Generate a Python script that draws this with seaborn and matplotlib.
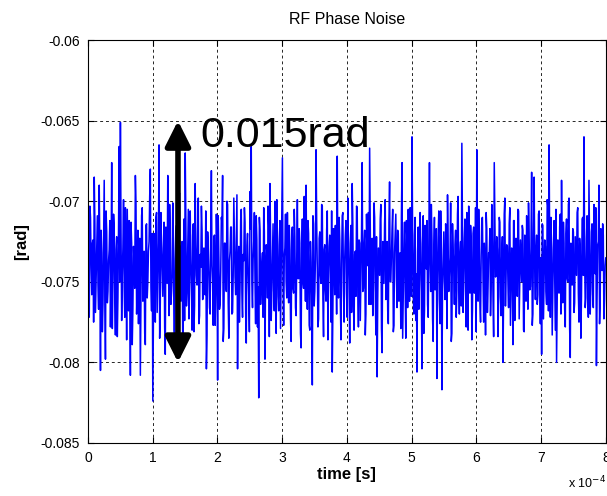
import numpy as np
import pandas as pd
import matplotlib
matplotlib.use("Agg")
import matplotlib.pyplot as plt
import seaborn as sns
from matplotlib.ticker import FuncFormatter

# phase samples in mrad; even-numbered samples ...
phase_mrad_even = [
    -73.5, -77.2, -71.0, -75.8, -72.4, -68.5, -76.9, -72.8, -75.1, -69.0, -80.5, -73.2, -76.4, -68.7, -79.8, -71.9, -75.6, -73.0, -77.8, -67.6,
    -74.9, -71.6, -78.3, -72.2, -76.0, -66.6, -65.1, -77.4, -72.9, -75.3, -70.4, -78.6, -73.8, -71.2, -80.8, -72.6, -76.7, -73.9, -68.4, -77.0,
    -71.8, -75.5, -80.8, -70.9, -76.2, -73.1, -78.9, -71.4, -75.0, -72.5, -68.0, -76.8, -82.4, -72.0, -77.5, -70.7, -74.8, -66.5, -76.3, -72.7,
    -75.9, -71.3, -79.5, -73.4, -68.4, -77.1, -72.3, -75.7, -70.1, -78.0, -73.6, -71.5, -76.6, -69.6, -75.2, -72.8, -78.4, -71.1, -67.0, -76.5,
    -73.0, -77.3, -70.6, -75.4, -72.1, -78.1, -68.9, -74.6, -71.7, -77.6, -73.3, -70.3, -76.1, -72.9, -75.8, -80.4, -71.9, -74.4, -77.0, -68.1,
    -75.1, -72.2, -77.7, -70.8, -81.1, -73.5, -76.4, -71.0, -68.4, -77.9, -72.6, -75.6, -70.2, -78.5, -73.1, -71.6, -76.9, -69.8, -74.7, -72.4,
    -80.4, -72.8, -75.2, -70.5, -77.2, -73.7, -71.3, -78.8, -72.0, -75.9, -69.4, -66.6, -76.6, -72.5, -74.9, -70.9, -77.8, -82.2, -71.8, -75.3,
    -73.2, -70.4, -79.8, -72.7, -76.0, -71.5, -68.9, -77.4, -73.4, -75.5, -70.0, -78.2, -72.3, -76.8, -71.2, -74.5, -67.3, -77.7, -72.9, -75.0,
    -70.7, -76.3, -73.0, -78.7, -71.6, -75.7, -72.2, -77.1, -69.9, -74.8, -72.6, -79.1, -71.1, -75.4, -73.5, -69.0, -76.7, -72.0, -78.0, -73.8,
    -81.4, -71.4, -75.6, -66.8, -74.2, -77.3, -71.9, -75.1, -70.3, -78.4, -72.7, -76.2, -70.6, -74.9, -72.1, -77.5, -80.6, -71.7, -75.8, -73.0,
    -67.2, -76.0, -72.4, -78.6, -70.9, -75.3, -73.6, -71.2, -77.2, -72.8, -78.8, -71.5, -68.9, -76.5, -73.3, -75.9, -70.4, -77.8, -72.6, -74.7,
    -67.6, -75.4, -71.8, -77.0, -73.1, -70.7, -66.7, -76.4, -72.3, -75.2, -71.0, -78.3, -80.9, -72.9, -74.6, -70.2, -79.4, -73.7, -71.4, -76.1,
    -72.5, -77.6, -68.8, -75.0, -71.7, -78.1, -73.2, -70.8, -76.6, -72.0, -74.3, -77.9, -67.6, -75.7, -71.3, -78.5, -73.0, -70.5, -76.2, -72.8,
    -66.0, -75.8, -72.1, -77.4, -80.6, -71.6, -74.9, -72.7, -80.4, -70.9, -76.8, -73.4, -71.2, -77.2, -67.6, -75.6, -72.4, -78.7, -71.0, -75.3,
    -81.0, -72.2, -76.1, -70.6, -81.7, -73.5, -75.0, -71.4, -77.9, -72.9, -74.4, -70.1, -78.2, -73.1, -76.4, -71.8, -75.5, -69.7, -77.0, -72.5,
    -66.4, -76.9, -72.3, -75.2, -70.7, -78.0, -73.6, -71.5, -78.6, -72.0, -75.7, -70.4, -66.8, -76.2, -73.0, -77.5, -71.1, -74.8, -72.6, -78.3,
    -71.7, -75.4, -73.3, -77.1, -70.2, -76.0, -67.6, -74.7, -72.2, -78.4, -71.0, -75.9, -73.5, -80.0, -70.8, -76.5, -72.7, -75.1, -71.4, -77.7,
    -72.9, -78.9, -71.2, -75.6, -73.7, -70.5, -77.3, -72.4, -75.0, -71.8, -78.1, -73.2, -70.9, -76.7, -72.5, -75.3, -68.2, -77.0, -68.5, -76.1,
    -72.1, -75.8, -70.6, -77.6, -79.5, -71.5, -74.9, -72.8, -76.4, -70.3, -66.5, -77.2, -73.0, -75.5, -71.2, -78.0, -80.0, -72.4, -75.7, -70.8,
    -68.7, -76.3, -72.6, -77.8, -71.1, -75.0, -69.8, -79.7, -73.4, -71.7, -76.9, -72.2, -74.6, -70.4, -77.5, -73.1, -75.9, -71.0, -66.0, -76.6,
    -72.3, -75.4, -68.7, -77.0, -71.9, -75.8, -70.2, -74.5, -80.2, -72.7, -69.0, -76.2, -73.6, -71.4, -77.3, -74.0,
]
# ... and the odd-numbered samples in between
phase_mrad_odd = [
    -75.2, -70.3, -74.1, -72.6, -77.5, -71.4, -74.8, -70.9, -76.7, -73.3, -71.8, -78.1, -72.4, -75.9, -70.6, -76.3, -73.7, -71.2, -74.4, -77.9,
    -70.8, -76.1, -73.0, -78.4, -71.7, -75.0, -72.1, -74.6, -69.9, -77.2, -73.5, -70.5, -76.8, -74.0, -71.3, -78.9, -72.8, -75.4, -70.1, -74.9,
    -77.6, -72.3, -75.8, -70.4, -73.9, -78.2, -71.5, -76.0, -73.1, -69.7, -75.3, -72.0, -77.3, -74.5, -71.0, -76.9, -72.6, -78.5, -70.7, -74.2,
    -72.9, -77.8, -71.6, -75.1, -73.4, -70.2, -76.4, -74.7, -72.2, -78.6, -71.9, -75.6, -73.8, -69.5, -76.2, -72.5, -74.3, -77.4, -71.1, -75.7,
    -70.5, -74.8, -73.6, -78.0, -71.4, -76.5, -72.7, -75.2, -69.8, -77.1, -74.1, -71.8, -75.9, -73.2, -70.6, -78.3, -72.9, -76.6, -71.5, -74.0,
    -77.7, -72.1, -75.5, -73.0, -70.9, -76.7, -74.4, -71.3, -78.7, -72.6, -75.0, -70.0, -76.3, -73.7, -71.6, -77.0, -74.6, -72.3, -75.8, -69.6,
    -74.5, -77.5, -71.2, -75.7, -73.3, -70.4, -76.9, -72.8, -74.2, -78.1, -71.7, -75.1, -73.6, -70.7, -77.6, -72.4, -75.3, -71.0, -76.4, -73.9,
    -77.2, -71.9, -74.7, -73.1, -70.3, -78.4, -72.2, -75.6, -71.4, -76.8, -73.5, -69.9, -75.9, -72.7, -77.9, -71.1, -74.9, -73.4, -70.8, -76.0,
    -73.8, -71.5, -77.3, -72.0, -75.4, -70.5, -76.6, -73.2, -74.8, -71.7, -78.2, -72.9, -75.0, -69.7, -76.2, -74.3, -71.2, -77.7, -72.5, -75.8,
    -70.9, -76.5, -73.6, -71.3, -77.8, -72.3, -74.6, -70.2, -76.1, -73.0, -75.5, -71.8, -78.6, -72.8, -74.1, -70.6, -76.7, -73.3, -71.5, -77.0,
    -74.4, -71.0, -76.3, -73.9, -70.7, -77.5, -72.1, -75.7, -69.8, -74.9, -72.6, -76.9, -71.4, -78.0, -73.1, -70.3, -75.2, -72.4, -77.4, -71.9,
    -75.6, -72.7, -78.3, -70.8, -74.0, -76.4, -71.6, -73.5, -77.1, -70.1, -75.3, -72.2, -76.0, -73.8, -71.1, -77.9, -72.5, -75.1, -69.9, -74.6,
    -76.8, -71.3, -75.0, -73.4, -70.5, -77.7, -72.0, -74.7, -71.8, -76.2, -73.2, -70.9, -78.5, -72.9, -75.4, -71.2, -76.6, -73.7, -70.4, -75.9,
    -72.3, -77.0, -71.0, -74.5, -73.1, -76.7, -70.7, -75.8, -72.6, -78.2, -71.5, -74.2, -76.4, -72.1, -73.6, -70.2, -77.3, -72.8, -75.5, -71.7,
    -74.8, -70.6, -77.6, -73.0, -75.2, -71.9, -76.1, -72.4, -69.6, -75.6, -73.5, -78.7, -71.4, -74.1, -72.7, -77.2, -70.8, -75.0, -73.3, -76.5,
    -72.0, -74.9, -71.1, -77.8, -73.7, -70.3, -75.7, -72.5, -76.8, -71.6, -74.3, -78.1, -72.9, -70.5, -76.3, -73.4, -71.0, -77.5, -74.0, -70.7,
    -76.9, -73.2, -71.7, -75.3, -72.6, -78.4, -70.9, -74.6, -73.0, -76.0, -71.3, -77.1, -72.2, -75.8, -69.8, -74.4, -72.8, -76.6, -70.4, -75.1,
    -73.6, -71.2, -77.4, -72.3, -75.9, -70.6, -74.7, -73.8, -71.5, -78.0, -72.1, -76.2, -73.3, -70.1, -75.5, -72.7, -77.7, -71.8, -74.2, -73.0,
    -76.4, -70.8, -75.0, -73.5, -71.4, -77.3, -72.4, -75.6, -69.9, -76.8, -73.1, -71.0, -78.3, -72.9, -74.5, -70.5, -76.1, -73.7, -71.6, -77.0,
    -73.9, -71.3, -76.7, -72.0, -74.8, -70.2, -77.9, -72.6, -75.2, -71.9, -76.3, -73.4, -70.7, -75.7, -72.3, -78.5, -71.1, -74.6, -73.0, -76.0,
    -70.9, -77.2, -72.8, -75.3, -71.4, -76.6, -73.6, -70.4, -75.9, -72.5, -77.6, -71.7, -74.3, -72.1, -76.1, -73.5,
]
t_start, t_end = 0.0, 8e-4
x_ticks = [0, 1, 2, 3, 4, 5, 6, 7, 8]          # in units of 1e-4 s
y_ticks = [-0.085, -0.08, -0.075, -0.07, -0.065, -0.06]
y_tick_labels = ["-0.085", "-0.08", "-0.075", "-0.07", "-0.065", "-0.06"]
arrow_t = 1.39e-4
arrow_lo, arrow_hi = -0.080, -0.065
annot_text = "0.015rad"

n = len(phase_mrad_even) + len(phase_mrad_odd)
phase = np.empty(n)
phase[0::2] = phase_mrad_even
phase[1::2] = phase_mrad_odd
phase = phase / 1000.0
time = np.linspace(t_start, t_end, n)
df = pd.DataFrame({"time": time, "phase": phase})

sns.set_style("white")
plt.rcParams["font.family"] = ["Liberation Sans", "DejaVu Sans"]
plt.rcParams["text.color"] = "black"
plt.rcParams["axes.labelcolor"] = "black"
plt.rcParams["xtick.color"] = "black"
plt.rcParams["ytick.color"] = "black"

fig = plt.figure(figsize=(6.07, 4.96), dpi=100)
ax = fig.add_axes([0.145, 0.107, 0.853, 0.812])

sns.lineplot(data=df, x="time", y="phase", ax=ax, color="#0000ff",
             linewidth=1.1, estimator=None, sort=False)

ax.set_xlim(t_start, t_end)
ax.set_ylim(-0.085, -0.06)
ax.set_xticks([v * 1e-4 for v in x_ticks])
ax.xaxis.set_major_formatter(FuncFormatter(lambda v, p: f"{v * 1e4:.0f}"))
ax.set_yticks(y_ticks)
ax.set_yticklabels(y_tick_labels)
ax.tick_params(direction="in", length=4, width=0.8, colors="black",
               labelsize=10, top=True, right=True, bottom=True, left=True, pad=6)
ax.grid(True, color="black", linestyle=(0, (3, 3)), linewidth=0.7, alpha=0.85)
for s in ax.spines.values():
    s.set_visible(True)
    s.set_color("black")
    s.set_linewidth(0.8)

ax.set_title("RF Phase Noise", fontsize=11.5, pad=12, color="black")
ax.set_xlabel("time [s]", fontsize=12, fontweight="bold", labelpad=1)
ax.set_ylabel("[rad]", fontsize=12, fontweight="bold", labelpad=8)
fig.text(0.935, 0.01, "x 10$^{-4}$", fontsize=9, ha="left", va="bottom")

ax.annotate("", xy=(arrow_t, arrow_lo), xytext=(arrow_t, arrow_hi),
            arrowprops=dict(arrowstyle="<|-|>", lw=4, color="black",
                            mutation_scale=38, shrinkA=0, shrinkB=0))
ax.text(1.73e-4, -0.0666, annot_text, fontsize=31, ha="left", va="baseline",
        color="black")

fig.savefig("out.png", dpi=100)
